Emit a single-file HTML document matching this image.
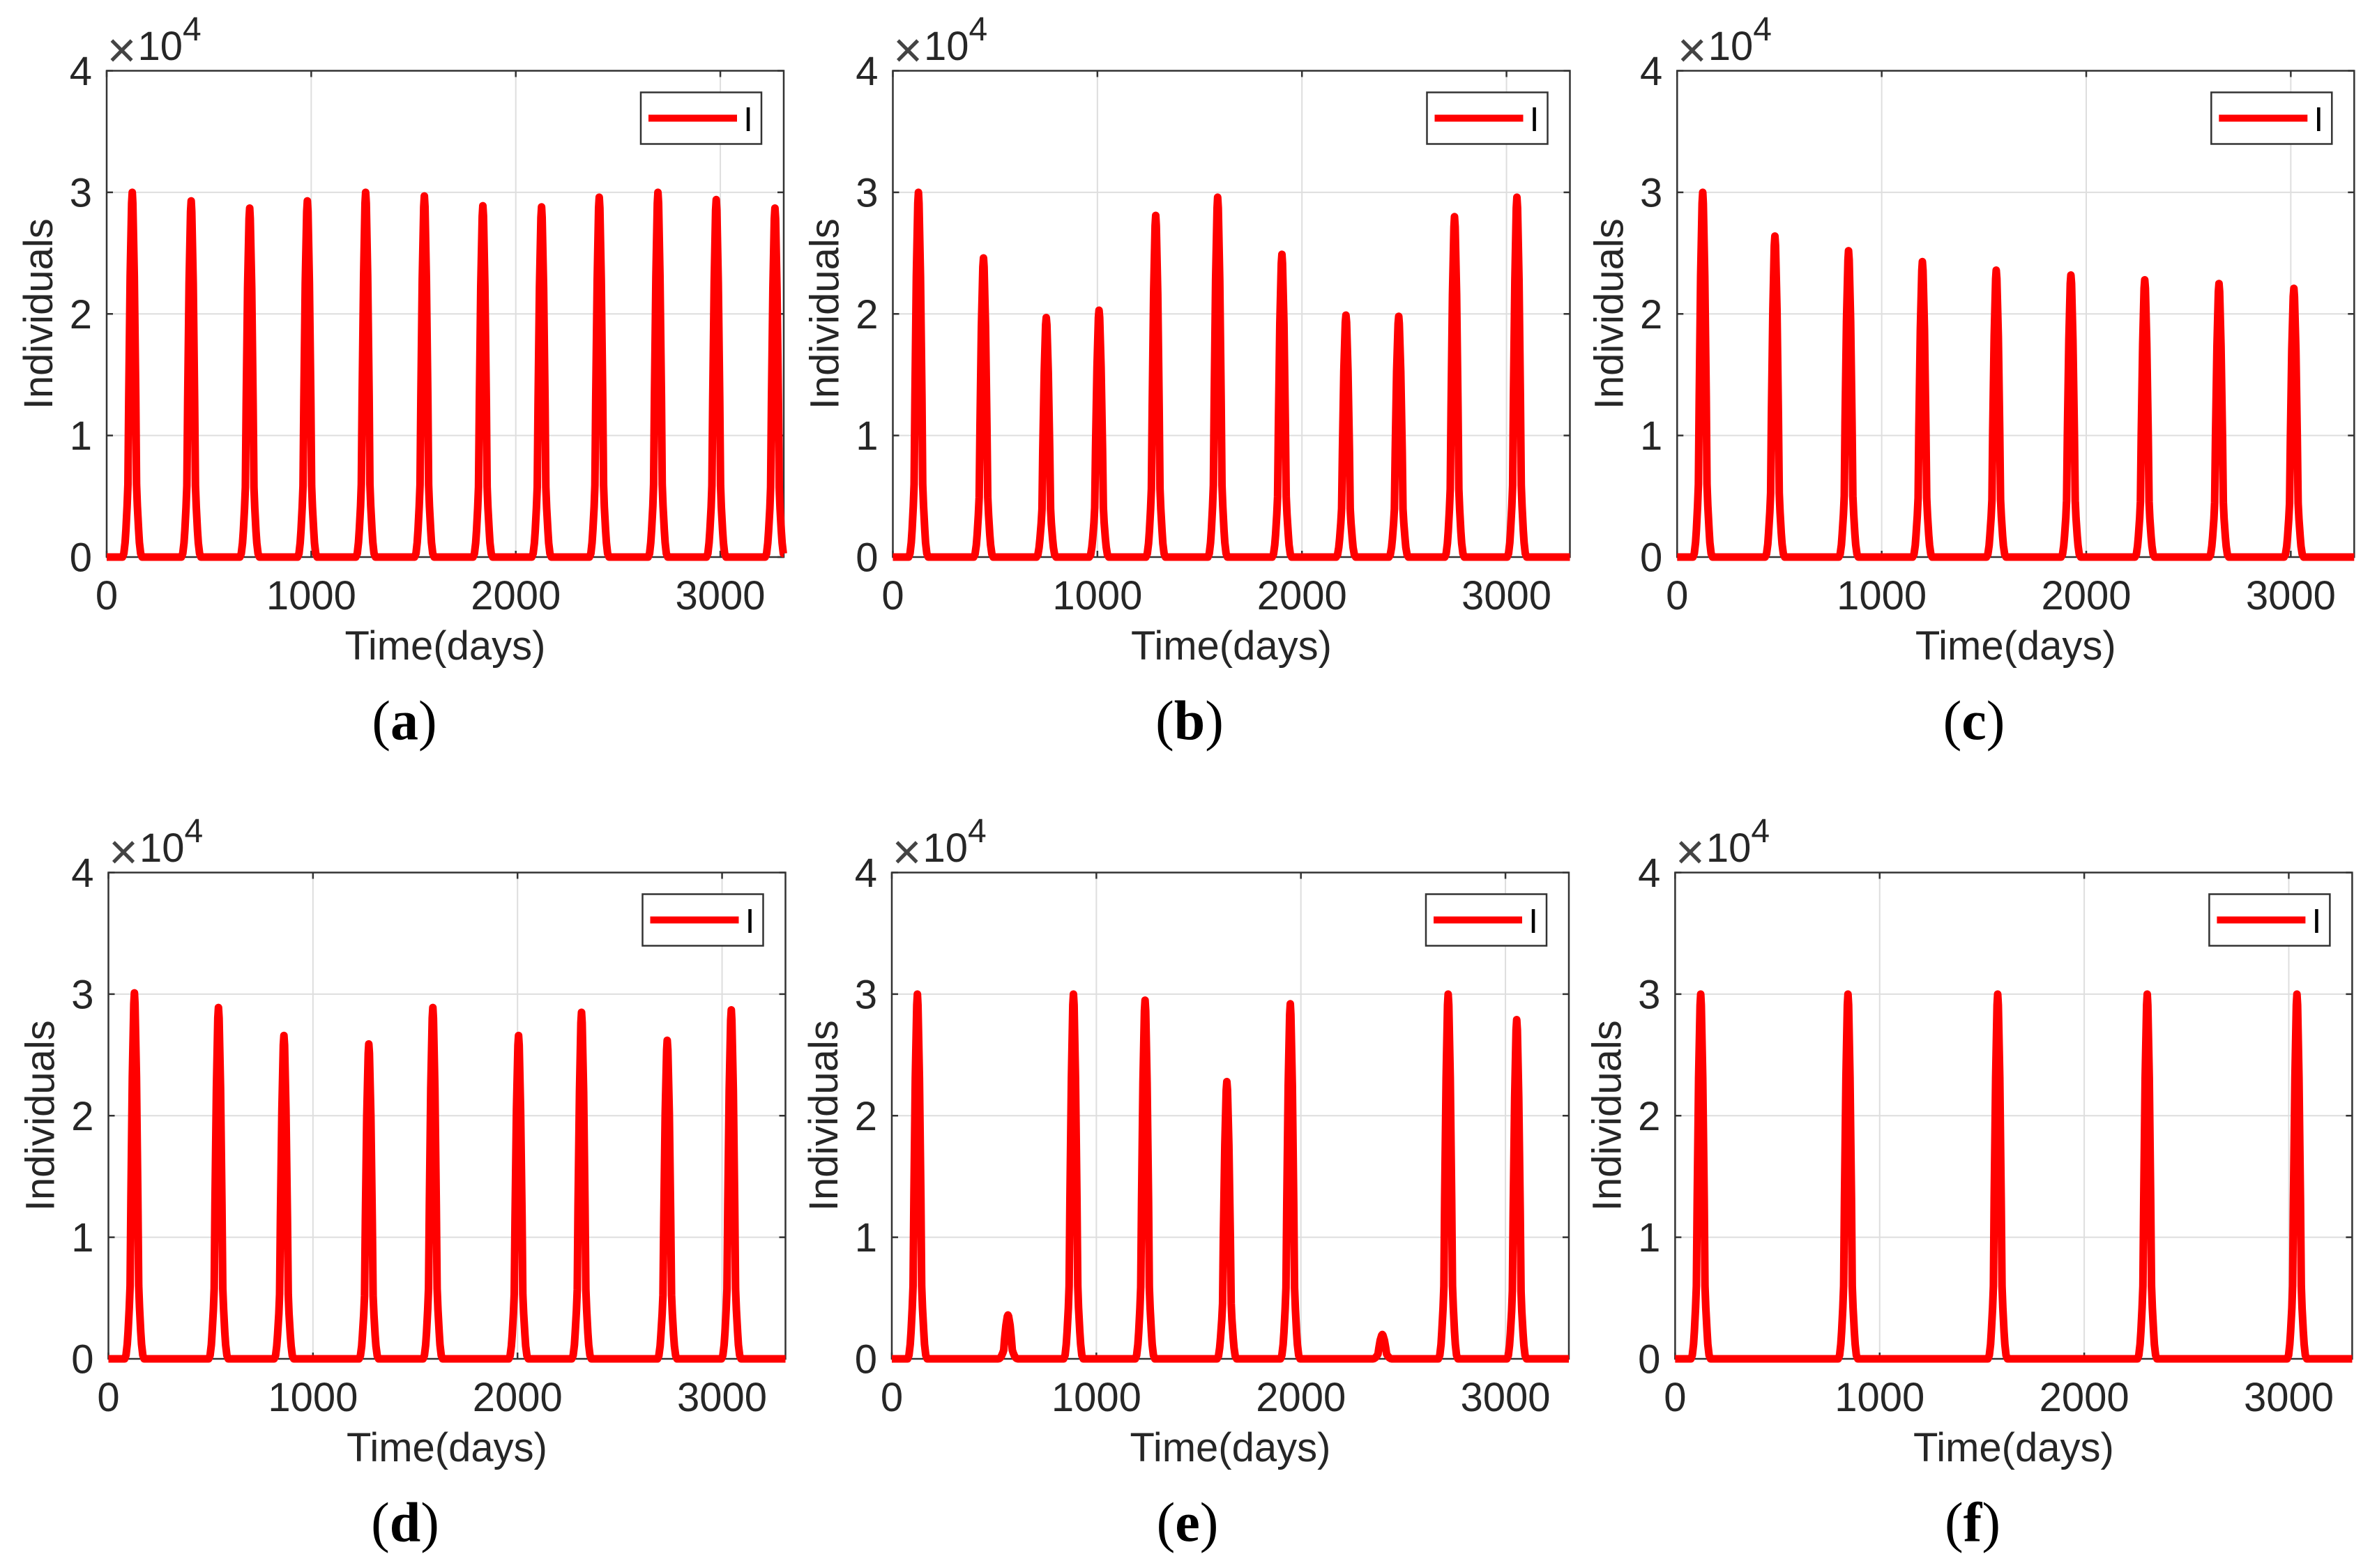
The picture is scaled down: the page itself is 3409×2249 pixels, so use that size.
<!DOCTYPE html>
<html lang="en">
<head>
<meta charset="utf-8">
<title>Infected individuals over time, six panels</title>
<style>
html,body{margin:0;padding:0;background:#fff;}
svg{display:block;}
text{font-family:"Liberation Sans",sans-serif;fill:#262626;}
.cap{font-family:"Liberation Serif",serif;fill:#000;font-size:80px;}
</style>
</head>
<body>
<svg id="figure" xmlns="http://www.w3.org/2000/svg" width="3409" height="2249" viewBox="0 0 3409 2249"></svg>
<script>
// Axis settings and tick labels
const xMaxDays = 3310;
const yMaxValue = 4;
const xTicks = [0, 1000, 2000, 3000];
const yTicks = [0, 1, 2, 3, 4];

// Peak days and peak heights (x 10^4 individuals)
const peakDaysA = [125, 413, 699, 981, 1266, 1553, 1839, 2126, 2408, 2695, 2980, 3267];
const peakValuesA = [3.0, 2.93, 2.87, 2.93, 3.0, 2.97, 2.89, 2.88, 2.96, 3.0, 2.94, 2.87];
const peakDaysB = [125, 443, 750, 1008, 1285, 1588, 1902, 2215, 2473, 2746, 3051];
const peakValuesB = [3.0, 2.46, 1.97, 2.03, 2.81, 2.96, 2.49, 1.99, 1.98, 2.8, 2.96];
const peakDaysC = [125, 478, 838, 1199, 1560, 1925, 2286, 2649, 3015];
const peakValuesC = [3.0, 2.64, 2.52, 2.43, 2.36, 2.32, 2.28, 2.25, 2.21];
const peakDaysD = [127, 538, 858, 1273, 1586, 2005, 2313, 2732, 3045];
const peakValuesD = [3.01, 2.89, 2.66, 2.59, 2.89, 2.66, 2.85, 2.62, 2.87];
const peakDaysE = [125, 568, 888, 1238, 1638, 1948, 2398, 2720, 3055];
const peakValuesE = [3.0, 0.36, 3.0, 2.95, 2.28, 2.92, 0.2, 3.0, 2.79];
const peakDaysF = [125, 845, 1577, 2308, 3040];
const peakValuesF = [3.0, 3.0, 3.0, 3.0, 3.0];

// Outbreak profile: days from the peak, and share of the peak height
const pulseDays = [-48, -41, -35, -31, -25, -21, -17, -10, -3, 0, 3, 10, 17, 21, 25, 31, 35, 41, 48];
const pulseShare = [0, 0.01, 0.04, 0.075, 0.14, 0.2, 0.44, 0.77, 0.97, 1, 0.97, 0.77, 0.44, 0.2, 0.14, 0.075, 0.04, 0.01, 0];

const panelIds = ['a', 'b', 'c', 'd', 'e', 'f'];
const panelPeakDays = [peakDaysA, peakDaysB, peakDaysC, peakDaysD, peakDaysE, peakDaysF];
const panelPeakValues = [peakValuesA, peakValuesB, peakValuesC, peakValuesD, peakValuesE, peakValuesF];

// Layout boxes, kept apart from the data
const layoutLeft = [153, 1280.5, 2405.3, 155.5, 1279, 2402.4];
const layoutTop = [101.5, 101.5, 101.5, 1251.5, 1251.5, 1251.5];
const layoutCaption = [580, 1706, 2831, 581, 1703, 2829];
const plotW = 971;
const plotH = 697.5;

const NS = 'http://www.w3.org/2000/svg';
const root = document.getElementById('figure');

function make(tag, parent, props, content) {
  const el = document.createElementNS(NS, tag);
  for (const k in props) el.setAttribute(k, props[k]);
  if (content !== undefined) el.textContent = content;
  parent.appendChild(el);
  return el;
}

function drawPanel(i) {
  const id = panelIds[i];
  const L = layoutLeft[i], T = layoutTop[i], R = L + plotW, B = T + plotH;
  const sx = d => L + d / xMaxDays * plotW;
  const sy = v => B - v / yMaxValue * plotH;

  const g = make('g', root, {});
  
  

  make('rect', g, {x: L, y: T, width: plotW, height: plotH, fill: '#fff'});

  xTicks.forEach(t => {
    if (t > 0) {
      const gl = make('line', g, {x1: sx(t), x2: sx(t), y1: T, y2: B, stroke: '#dedede', 'stroke-width': 2});
      
      
    }
  });
  yTicks.forEach(t => {
    if (t > 0 && t < yMaxValue) {
      const gl = make('line', g, {x1: L, x2: R, y1: sy(t), y2: sy(t), stroke: '#dedede', 'stroke-width': 2});
      
      
    }
  });

  xTicks.forEach(t => {
    const m1 = make('line', g, {x1: sx(t), x2: sx(t), y1: B, y2: B - 9, stroke: '#333', 'stroke-width': 2.5});
    
    
    const m2 = make('line', g, {x1: sx(t), x2: sx(t), y1: T, y2: T + 9, stroke: '#333', 'stroke-width': 2.5});
    
    
    const lab = make('text', g, {x: sx(t), y: B + 75, 'font-size': 58, 'text-anchor': 'middle'}, String(t));
    
    
  });
  yTicks.forEach(t => {
    const m1 = make('line', g, {x1: L, x2: L + 9, y1: sy(t), y2: sy(t), stroke: '#333', 'stroke-width': 2.5});
    
    
    const m2 = make('line', g, {x1: R, x2: R - 9, y1: sy(t), y2: sy(t), stroke: '#333', 'stroke-width': 2.5});
    
    
    const lab = make('text', g, {x: L - 21, y: sy(t) + 20.5, 'font-size': 58, 'text-anchor': 'end'}, String(t));
    
    
  });

  const box = make('rect', g, {x: L, y: T, width: plotW, height: plotH, fill: 'none', stroke: '#333', 'stroke-width': 2.5});
  
  

  // Series: baseline at zero with one outbreak pulse at each peak
  const pts = [[0, 0]];
  panelPeakDays[i].forEach((day, k) => {
    const h = panelPeakValues[i][k];
    pulseDays.forEach((off, j) => {
      const d = day + off;
      if (d >= 0 && d <= xMaxDays) pts.push([d, h * pulseShare[j]]);
    });
  });
  const last = pts[pts.length - 1];
  if (last[0] < xMaxDays) pts.push([xMaxDays, last[1]]);
  const line = make('polyline', g, {
    points: pts.map(p => sx(p[0]).toFixed(1) + ',' + sy(p[1]).toFixed(1)).join(' '),
    fill: 'none', stroke: '#ff0000', 'stroke-width': 11, 'stroke-linejoin': 'round', 'stroke-linecap': 'butt'
  });
  
  

  // Axis labels and exponent
  const xl = make('text', g, {x: L + plotW / 2, y: B + 147, 'font-size': 58, 'text-anchor': 'middle'}, 'Time(days)');
  
  
  const yl = make('text', g, {x: 0, y: 0, 'font-size': 58, 'text-anchor': 'middle', transform: 'translate(' + (L - 78) + ' ' + (T + plotH / 2) + ') rotate(-90)'}, 'Individuals');
  
  

  const ex = make('g', g, {});
  
  
  make('text', ex, {x: L + 21.5, y: T - 5, 'font-size': 72, 'text-anchor': 'middle', style: 'fill:#444'}, '×');
  make('text', ex, {x: L + 44.5, y: T - 15.5, 'font-size': 58}, '10');
  make('text', ex, {x: L + 109, y: T - 43.5, 'font-size': 48}, '4');

  // Legend
  const lg = make('g', g, {});
  
  
  make('rect', lg, {x: R - 205, y: T + 31, width: 173, height: 74, fill: '#fff', stroke: '#333', 'stroke-width': 2.5});
  const ls = make('line', lg, {x1: R - 194, x2: R - 67, y1: T + 68, y2: T + 68, stroke: '#ff0000', 'stroke-width': 10});
  
  
  const lt = make('text', lg, {x: R - 51, y: T + 86.5, 'font-size': 49, 'text-anchor': 'middle', style: 'fill:#000'}, 'I');
  
  

  // Caption
  const cap = make('text', g, {x: layoutCaption[i], y: T + 959, 'text-anchor': 'middle', class: 'cap'});
  
  
  make('tspan', cap, {}, '(');
  make('tspan', cap, {'font-weight': 'bold'}, id);
  make('tspan', cap, {}, ')');
}

panelIds.forEach((_, i) => drawPanel(i));
</script>
</body>
</html>
